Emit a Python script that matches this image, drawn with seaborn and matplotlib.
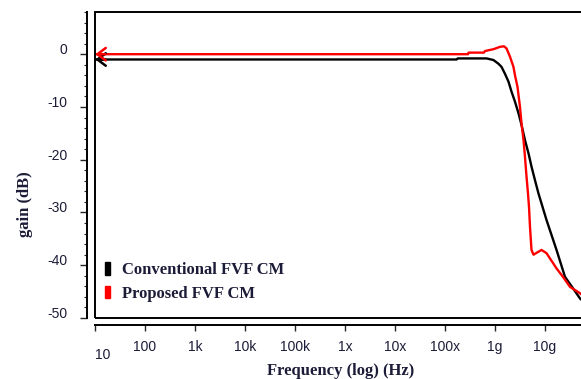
import numpy as np
import pandas as pd
import matplotlib
matplotlib.use("Agg")
import matplotlib.pyplot as plt
import matplotlib.transforms as mtransforms
from matplotlib.patches import Rectangle, Patch
from matplotlib.ticker import LogLocator, FixedLocator, MultipleLocator, NullFormatter
import seaborn as sns

# Frequency response of the two current mirrors (Hz, dB)
conv_freq = [1e1, 1.70e8, 1.80e8, 6.8e8, 9.3e8, 1.17e9, 1.35e9, 1.58e9, 1.86e9,
             2.14e9, 2.51e9, 2.95e9, 3.39e9, 3.98e9, 4.68e9, 5.37e9, 6.31e9,
             7.41e9, 1.07e10, 1.70e10, 2.51e10, 3.47e10, 5.01e10, 5.25e10]
conv_gain = [-1.0, -1.0, -0.8, -0.8, -1.1, -1.8, -2.4, -3.7, -5.2,
             -7.1, -9.0, -11.2, -13.4, -16.3, -18.8, -21.3, -23.9,
             -26.4, -31.4, -37.1, -42.2, -44.1, -46.3, -46.5]

prop_freq = [1e1, 2.9e8, 2.95e8, 6.0e8, 6.3e8, 9.3e8, 1.26e9, 1.51e9, 1.70e9,
             2.0e9, 2.34e9, 2.51e9, 2.82e9, 3.16e9, 3.39e9, 3.72e9, 3.98e9,
             4.27e9, 4.57e9, 4.79e9, 5.01e9, 5.37e9, 5.89e9, 8.51e9,
             1.07e10, 1.70e10, 2.29e10, 3.16e10, 5.01e10, 5.25e10]
prop_gain = [0.0, 0.0, 0.3, 0.3, 0.6, 0.95, 1.4, 1.5, 1.1,
             -0.5, -2.4, -4.0, -6.2, -10.0, -13.1, -16.3, -19.5,
             -23.2, -26.4, -29.0, -32.7, -37.1, -38.0, -37.1,
             -37.7, -40.6, -42.2, -44.1, -45.3, -45.5]

series_names = ["Conventional FVF CM", "Proposed FVF CM"]
series_colors = ["#000000", "#ff0000"]

x_ticks = [1e1, 1e2, 1e3, 1e4, 1e5, 1e6, 1e7, 1e8, 1e9, 1e10]
x_labels = ["10", "100", "1k", "10k", "100k", "1x", "10x", "100x", "1g", "10g"]
y_ticks = [0, -10, -20, -30, -40, -50]

df = pd.concat([
    pd.DataFrame({"freq": conv_freq, "gain": conv_gain, "series": series_names[0]}),
    pd.DataFrame({"freq": prop_freq, "gain": prop_gain, "series": series_names[1]}),
])

sns.set_style("white")
plt.rcParams["font.family"] = ["Liberation Sans", "DejaVu Sans"]
plt.rcParams["axes.unicode_minus"] = False

W, H = 581, 379
fig = plt.figure(figsize=(W / 100, H / 100), dpi=100)
ax = fig.add_axes([95 / W, 61 / H, 486 / W, 306 / H])

sns.lineplot(data=df, x="freq", y="gain", hue="series", hue_order=series_names,
             palette=series_colors, ax=ax, legend=False, lw=1.7, sort=True,
             estimator=None)

ax.set_xscale("log")
ax.set_xlim(10, 10 ** 10.72)
ax.set_ylim(-50, 8)

# plot frame (right side runs off the figure)
ax.add_patch(Rectangle((0, 0), 1.05, 1, transform=ax.transAxes, fill=False,
                       ec="black", lw=1.4, clip_on=False, zorder=5))

# detached axis lines
for side in ("top", "right"):
    ax.spines[side].set_visible(False)
ax.spines["left"].set_position(("outward", 6))
ax.spines["bottom"].set_position(("outward", 5))
for side in ("left", "bottom"):
    ax.spines[side].set_linewidth(1.4)
    ax.spines[side].set_color("black")

ax.xaxis.set_major_locator(FixedLocator(x_ticks))
ax.set_xticklabels(x_labels)
ax.xaxis.set_minor_locator(LogLocator(base=10, subs=np.arange(2, 10)))
ax.xaxis.set_minor_formatter(NullFormatter())
ax.set_yticks(y_ticks)
ax.yaxis.set_minor_locator(MultipleLocator(2))

lab_color = "#1c1c38"
ax.tick_params(axis="x", which="major", direction="out", length=4.5, width=1,
               pad=6, labelsize=10, labelcolor=lab_color, bottom=True)
ax.tick_params(axis="x", which="minor", direction="out", length=2.2, width=0.8,
               bottom=True)
ax.tick_params(axis="y", which="major", direction="out", length=5, width=1,
               pad=9, labelsize=10, labelcolor=lab_color, left=True)
ax.tick_params(axis="y", which="minor", direction="out", length=2.5, width=0.8,
               left=True)

for lab in ax.get_yticklabels():
    lab.set_va("baseline")
first = ax.get_xticklabels()[0]
first.set_transform(first.get_transform() +
                    mtransforms.ScaledTranslation(8 / 100, -8 / 100, fig.dpi_scale_trans))

ax.set_xlabel("")
ax.set_ylabel("")

serif_bold = dict(family=["Liberation Serif", "DejaVu Serif"], weight="bold",
                  color=lab_color, size=12)
fig.text(341 / W, 1 - 371 / H, "Frequency (log) (Hz)", ha="center", va="center",
         **serif_bold)
fig.text(25 / W, 1 - 204 / H, "gain (dB)", ha="center", va="center",
         rotation=90, **serif_bold)

# markers where each trace meets the gain axis
for g0, c in ((conv_gain[0], series_colors[0]), (prop_gain[0], series_colors[1])):
    ax.annotate("", xy=(10.15, g0), xytext=(16, g0),
                arrowprops=dict(arrowstyle="->,head_length=0.6,head_width=0.45",
                                color=c, lw=1.8, shrinkA=0, shrinkB=0))

handles = [Patch(facecolor=c, edgecolor=c) for c in series_colors]
leg = ax.legend(handles, series_names, loc="upper left",
                bbox_to_anchor=(10 / 486, (318 - 262) / 306),
                frameon=False, borderpad=0, borderaxespad=0,
                handlelength=0.3, handleheight=0.8, handletextpad=0.7,
                labelspacing=0.45,
                prop=dict(family=["Liberation Serif", "DejaVu Serif"],
                          weight="bold", size=12))
for t in leg.get_texts():
    t.set_color(lab_color)

fig.savefig("out.png", dpi=100)
